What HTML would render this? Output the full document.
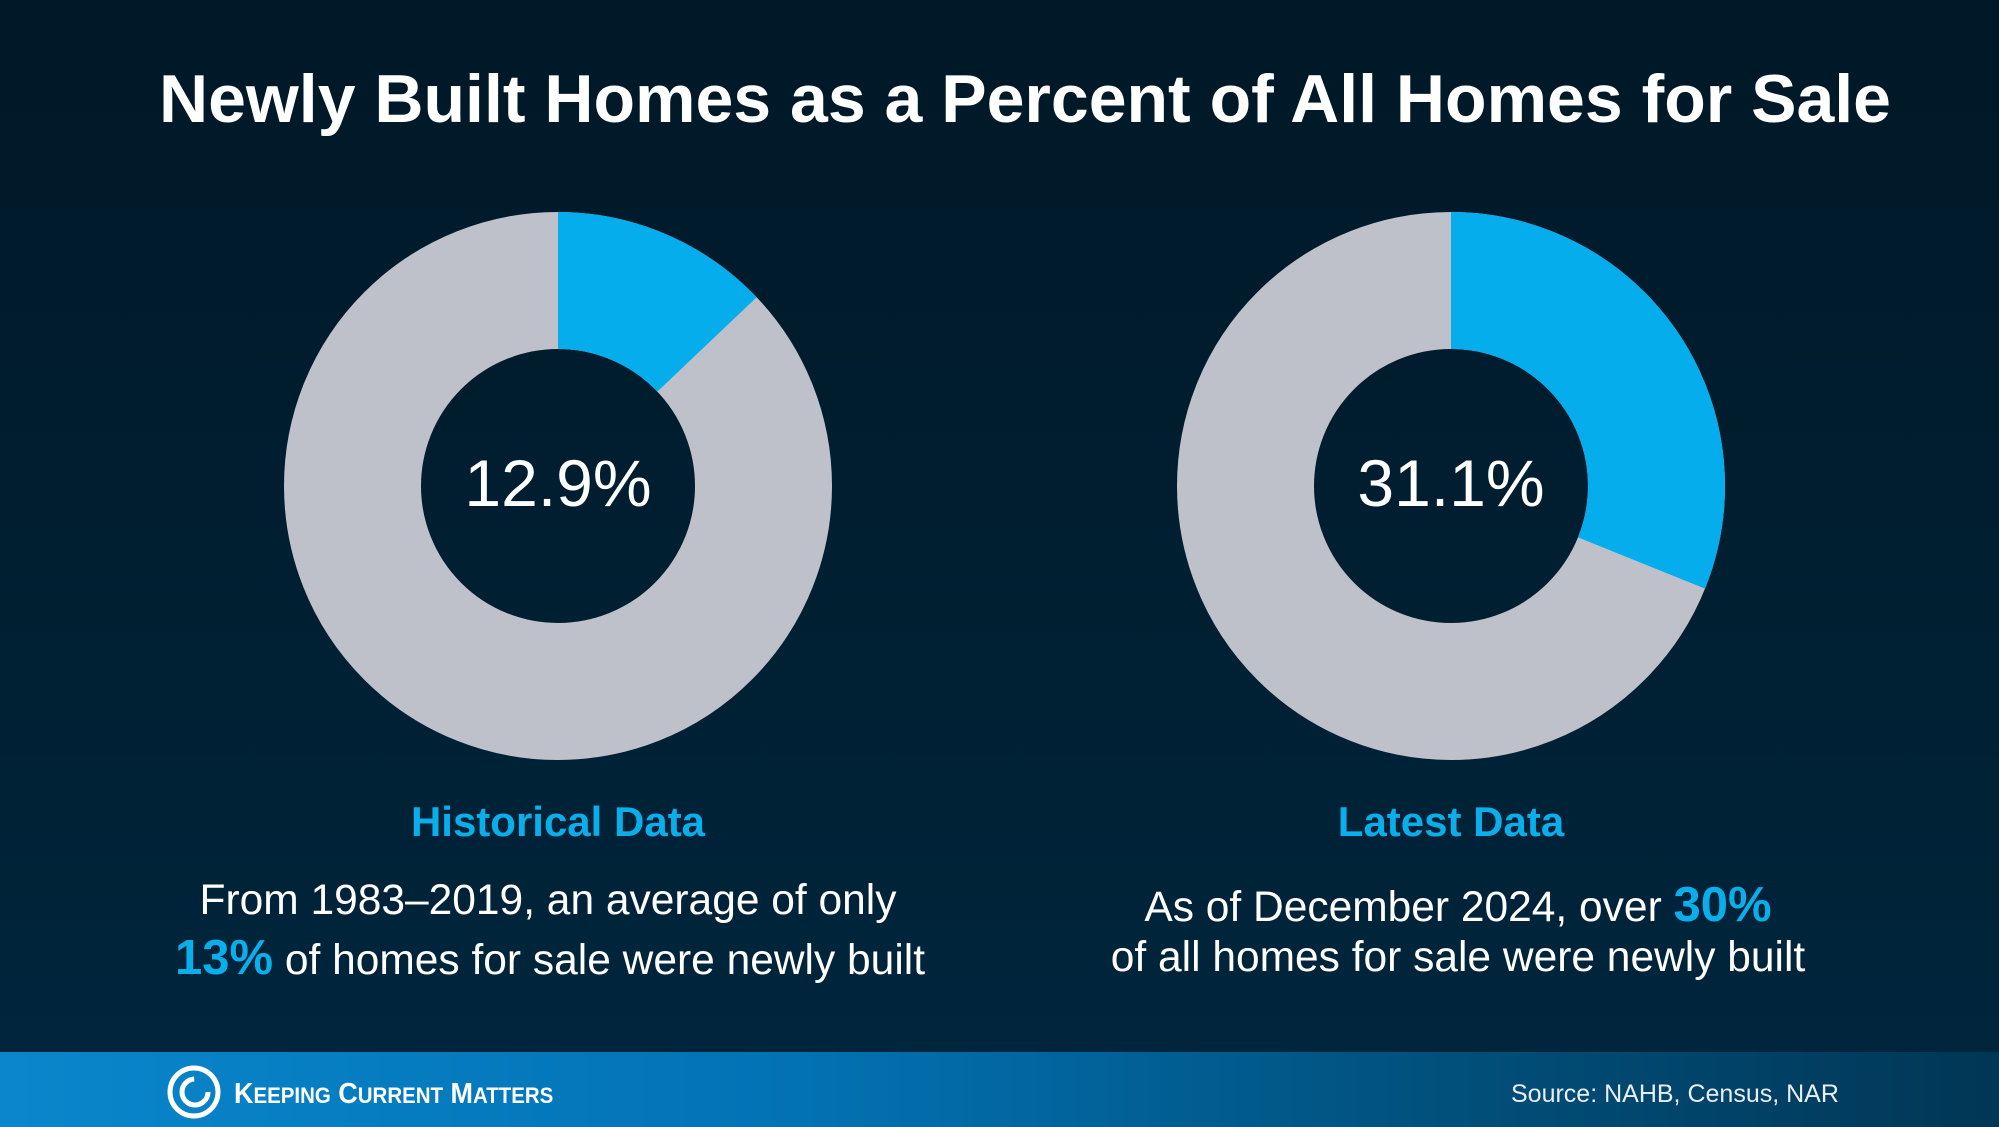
<!DOCTYPE html>
<html><head><meta charset="utf-8"><style>
body{margin:0;width:1999px;height:1127px;overflow:hidden;font-family:"Liberation Sans",sans-serif;}
.bg{position:absolute;left:0;top:0;width:1999px;height:1127px;background:linear-gradient(180deg,#001827 0%,#001f31 50%,#00263e 100%);}
.t{position:absolute;white-space:nowrap;text-align:center;}
.foot{position:absolute;left:0;top:1052px;width:1999px;height:75px;background:linear-gradient(90deg,#0a86cc 0%,#0272b4 40%,#01527f 70%,#013655 100%);}
</style></head><body>
<div class="bg"></div>
<div class="t" style="left:0;width:2050px;top:60px;font-size:68px;font-weight:bold;color:#fff;">Newly Built Homes as a Percent of All Homes for Sale</div>
<svg style="position:absolute;left:0;top:0" width="1999" height="1127">
<circle cx="558" cy="486" r="205.5" fill="none" stroke="#bec1c9" stroke-width="137"/>
<circle cx="558" cy="486" r="205.5" fill="none" stroke="#05adec" stroke-width="137" stroke-dasharray="166.6 2000" transform="rotate(-90 558 486)"/>
<circle cx="1451" cy="486" r="205.5" fill="none" stroke="#bec1c9" stroke-width="137"/>
<circle cx="1451" cy="486" r="205.5" fill="none" stroke="#05adec" stroke-width="137" stroke-dasharray="401.6 2000" transform="rotate(-90 1451 486)"/>
<text x="558" y="506" font-size="66" fill="#fff" text-anchor="middle" font-family="Liberation Sans">12.9%</text>
<text x="1451" y="506" font-size="66" fill="#fff" text-anchor="middle" font-family="Liberation Sans">31.1%</text>
</svg>
<div class="t" style="left:358px;width:400px;top:798px;font-size:42px;font-weight:bold;color:#0aaeea;">Historical Data</div>
<div class="t" style="left:1251px;width:400px;top:798px;font-size:42px;font-weight:bold;color:#0aaeea;">Latest Data</div>
<div class="t" style="left:148px;width:800px;top:877px;font-size:42.5px;color:#fff;">From 1983–2019, an average of only</div>
<div class="t" style="left:150px;width:800px;top:930px;font-size:42.5px;color:#fff;"><b style="color:#0aaeea;font-size:49px">13%</b> of homes for sale were newly built</div>
<div class="t" style="left:1058px;width:800px;top:877px;font-size:42.5px;color:#fff;">As of December 2024, over <b style="color:#0aaeea;font-size:49px">30%</b></div>
<div class="t" style="left:1058px;width:800px;top:934px;font-size:42.5px;color:#fff;">of all homes for sale were newly built</div>
<div class="foot"></div>
<svg style="position:absolute;left:166px;top:1064px" width="56" height="56"><circle cx="28" cy="28" r="24" fill="none" stroke="#fff" stroke-width="5"/><circle cx="29" cy="28" r="13" fill="none" stroke="#fff" stroke-width="5" stroke-dasharray="60 30"/></svg>
<div class="t" style="left:234px;top:1078px;font-size:29px;font-weight:bold;color:#fff;text-align:left;transform:scaleX(0.93);transform-origin:left;">K<span style="font-size:22px">EEPING</span> C<span style="font-size:22px">URRENT</span> M<span style="font-size:22px">ATTERS</span></div>
<div class="t" style="left:1511px;top:1080px;font-size:25px;color:#e8eef3;text-align:left;">Source: NAHB, Census, NAR</div>
</body></html>
